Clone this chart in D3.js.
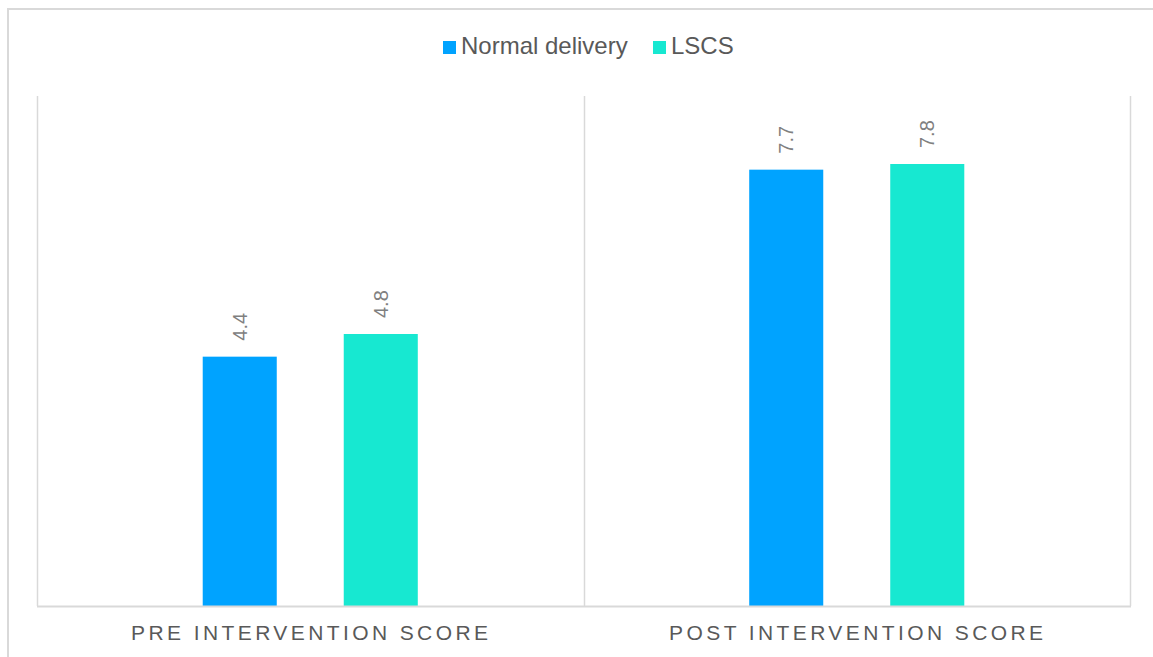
<!DOCTYPE html>
<html>
<head>
<meta charset="utf-8">
<script src="https://cdn.jsdelivr.net/npm/d3@7"></script>
<style>
    body { margin: 0; background: #fff; }
    svg { display: block; font-family: "Liberation Sans", Arial, sans-serif; }
</style>
</head>
<body>
<div id="chart"></div>
<script>
const categories = ['PRE INTERVENTION SCORE', 'POST INTERVENTION SCORE'];
const seriesNames = ['Normal delivery', 'LSCS'];
const normalDelivery = [4.4, 7.7];
const lscs = [4.8, 7.8];
const seriesColors = ['#00a3ff', '#17e8d1'];

const width = 1153, height = 657;
const margin = {top: 96, right: 23, bottom: 51, left: 37};

const svg = d3.select("#chart")
    .append("svg")
        .attr("width", width)
        .attr("height", height);

// outer chart border
svg.append("rect")
    .attr("x", 8)
    .attr("y", 9)
    .attr("width", width + 20)
    .attr("height", height + 20)
    .attr("fill", "none")
    .attr("stroke", "#d9d9d9")
    .attr("stroke-width", 2);

const x0 = d3.scaleBand()
    .domain(categories)
    .range([margin.left, width - margin.right])
    .paddingInner(0)
    .paddingOuter(0);

const x1 = d3.scaleBand()
    .domain(seriesNames)
    .range([0, x0.bandwidth()])
    .paddingInner(0.475)
    .paddingOuter(1.175);

const y = d3.scaleLinear()
    .domain([0, 9])
    .range([height - margin.bottom, margin.top]);

const color = d3.scaleOrdinal().domain(seriesNames).range(seriesColors);

// vertical separators between categories
const seps = [margin.left].concat(categories.map(c => x0(c) + x0.bandwidth()));
svg.selectAll(".sep")
    .data(seps)
    .enter().append("line")
    .attr("class", "sep")
    .attr("x1", d => Math.round(d) + 0.5)
    .attr("x2", d => Math.round(d) + 0.5)
    .attr("y1", y(9))
    .attr("y2", y(0))
    .attr("stroke", "#d9d9d9")
    .attr("stroke-width", 1.5);

const rows = seriesNames.map((name, i) => ({
    name,
    values: (i === 0 ? normalDelivery : lscs).map((v, j) => ({cat: categories[j], value: v, name}))
}));

const groups = svg.selectAll(".series")
    .data(rows)
    .enter().append("g")
    .attr("class", "series");

groups.selectAll("rect")
    .data(d => d.values)
    .enter().append("rect")
    .attr("x", d => x0(d.cat) + x1(d.name))
    .attr("y", d => y(d.value))
    .attr("width", x1.bandwidth())
    .attr("height", d => y(0) - y(d.value))
    .attr("fill", d => color(d.name));

groups.selectAll(".val")
    .data(d => d.values)
    .enter().append("text")
    .attr("class", "val")
    .attr("transform", d => "translate(" + (x0(d.cat) + x1(d.name) + x1.bandwidth() / 2) + "," + (y(d.value) - 16) + ") rotate(-90)")
    .attr("dy", "0.36em")
    .attr("text-anchor", "start")
    .attr("fill", "#808080")
    .style("font-size", "20px")
    .text(d => d.value.toFixed(1));

// baseline
svg.append("line")
    .attr("x1", margin.left)
    .attr("x2", width - margin.right + 1)
    .attr("y1", y(0) + 0.5)
    .attr("y2", y(0) + 0.5)
    .attr("stroke", "#d9d9d9")
    .attr("stroke-width", 2);

// category labels
svg.selectAll(".cat")
    .data(categories)
    .enter().append("text")
    .attr("class", "cat")
    .attr("x", d => x0(d) + x0.bandwidth() / 2 + 1)
    .attr("y", 640)
    .attr("text-anchor", "middle")
    .attr("fill", "#595959")
    .style("font-size", "21px")
    .style("letter-spacing", "3.4px")
    .text(d => d);

// legend
const legendX = [443, 653];
const legend = svg.selectAll(".legend")
    .data(seriesNames)
    .enter().append("g")
    .attr("class", "legend")
    .attr("transform", (d, i) => "translate(" + legendX[i] + ",41)");
legend.append("rect")
    .attr("width", 13)
    .attr("height", 13)
    .attr("fill", d => color(d));
legend.append("text")
    .attr("x", 18)
    .attr("y", 13)
    .attr("fill", "#595959")
    .style("font-size", "24px")
    .text(d => d);
</script>
</body>
</html>
